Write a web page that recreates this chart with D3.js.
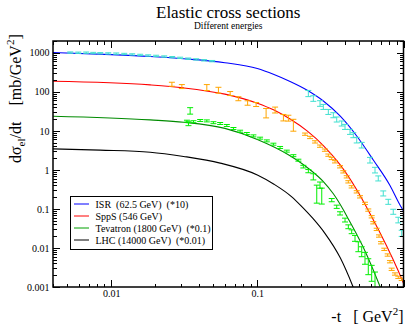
<!DOCTYPE html>
<html><head><meta charset="utf-8">
<script src="https://cdn.jsdelivr.net/npm/d3@7"></script>
<style>
html,body{margin:0;padding:0;background:#fff;}
svg{display:block;font-family:"Liberation Serif","Times New Roman",serif;}
text{white-space:pre;}
</style></head><body>
<svg id="c" width="405" height="324"></svg>
<script>
// ---------------- DATA ----------------
const xMajorTicks = [0.01, 0.1, 1];
const xMajorLabels = ["0.01", "0.1", ""];
const yMajorTicks = [0.001, 0.01, 0.1, 1, 10, 100, 1000];
const yMajorLabels = ["0.001", "0.01", "0.1", "1", "10", "100", "1000"];

const legendLabels = ["ISR  (62.5 GeV)  (*10)", "SppS (546 GeV)", "Tevatron (1800 GeV)  (*0.1)", "LHC (14000 GeV)  (*0.01)"];

// model curves (-t, dσ/dt)
const isrCurveT = [0.004,0.01,0.0185,0.0313,0.06,0.1,0.13,0.1675,0.218,0.2829,0.368,0.4786,0.6215,0.8082,0.946,1.0];
const isrCurveV = [1009,897,802,700,556,395,277,183.5,111,58.1,24.0,7.37,1.79,0.398,0.126,0.0885];
const sppsCurveT = [0.004,0.0185,0.0313,0.06,0.1,0.13,0.1675,0.22,0.2829,0.368,0.4786,0.6058,0.92,1.0];
const sppsCurveV = [186,150,126,87,51,34,20,9.8,4.2,1.36,0.31,0.063,0.0026,0.00125];
const tevCurveT = [0.004,0.0185,0.0313,0.06,0.1,0.1675,0.2295,0.2829,0.3311,0.3874,0.4194,0.443,0.55,0.68,0.71];
const tevCurveV = [23.6,19.06,16.64,11.55,6.03,2.31,1.01,0.501,0.244,0.095,0.055,0.038,0.0078,0.00119,0.00079];
const lhcCurveT = [0.004,0.0084,0.0185,0.0313,0.0557,0.1,0.13,0.172,0.2,0.24,0.29,0.37,0.45,0.47];
const lhcCurveV = [3.45,3.2,2.84,2.21,1.49,0.74,0.43,0.204,0.118,0.057,0.0237,0.0055,0.00105,0.0007];

// data points: -t, value, multiplicative error factor
const isrDataT = [0.00525,0.00596,0.00675,0.00754,0.00842,0.00955,0.01083,0.01229,0.01393,0.0158,0.01792,0.0203,0.02306,0.02615,0.02965,0.03363,0.03815,0.04325,0.04909,
  0.2234,0.2416,0.2685,0.2829,0.306,0.3311,0.3493,0.3778,0.398,0.4307,0.4535,0.4786,0.5176,0.5899,0.6383,0.672,0.727,0.787,0.851,0.921,0.972];
const isrDataV = [1010,1000,1005,985,970,960,950,930,905,880,850,830,800,770,740,705,675,640,610,
  90.2,67.2,50.1,41.0,30.5,25.1,19.5,15.4,12.6,9.4,7.74,5.77,4.29,1.77,0.985,0.604,0.249,0.152,0.0845,0.0518,0.0237];
const isrDataE = [1.04,1.04,1.04,1.04,1.04,1.04,1.04,1.04,1.04,1.04,1.04,1.04,1.04,1.04,1.04,1.04,1.04,1.04,1.04,
  1.2,1.18,1.18,1.16,1.16,1.16,1.16,1.16,1.16,1.16,1.16,1.18,1.18,1.18,1.18,1.16,1.16,1.16,1.16,1.18,1.2];

const sppsDataT = [0.02603,0.03046,0.04513,0.05418,0.0652,0.0742,0.0858,0.0981,0.1148,0.1323,0.1508,0.1631,0.1764,
  0.2121,0.2295,0.2483,0.2685,0.290,0.306,0.3228,0.340,0.368,0.3874,0.4089,0.4194,0.4421,0.4786,0.5041,0.5452,0.5742,0.6058,0.6215,0.6556,0.6799,0.7015,0.739,0.7795,0.8082,0.8301,0.8744,0.921,0.972];
const sppsDataV = [156,136,128.5,109.6,90.2,66.4,51.6,47.2,28.3,34.1,21.7,21.1,13.9,
  8.21,6.76,5.21,4.05,3.20,2.38,1.96,1.61,1.20,0.891,0.664,0.494,0.368,0.274,0.204,0.1385,0.0933,0.0629,0.0442,0.0299,0.0202,0.0136,0.00922,0.00659,0.00444,0.00284,0.00215,0.00177,0.00157];
const sppsDataE = [1.125,1.125,1.19,1.19,1.125,1.125,1.14,1.125,1.32,1.19,1.21,1.19,1.42,
  1.07,1.07,1.07,1.07,1.07,1.07,1.07,1.07,1.07,1.07,1.07,1.07,1.07,1.07,1.07,1.07,1.07,1.07,1.07,1.07,1.07,1.07,1.07,1.07,1.07,1.07,1.07,1.07,1.07];

const tevDataT = [0.0347,0.0338,0.0330,0.03656,0.04063,0.04513,0.05008,0.05565,0.06184,0.06862,0.07623,0.08472,0.0940,0.1044,0.1161,0.1288,0.1431,0.1590,0.1764,0.1909,0.2065,0.2234,0.2416,0.2550,0.2685,0.2759,0.3228,0.3493,0.3680,0.398,0.4194,0.4421,0.4658,0.4908,0.5177,0.5452,0.5742,0.6058,0.6383];
const tevDataV = [32.4,15.2,17.65,17.14,18.4,17.96,16.16,15.41,13.70,11.48,9.79,8.55,7.43,6.49,5.53,4.55,3.75,3.02,2.31,1.77,1.21,0.928,0.664,0.239,0.407,0.213,0.168,0.1134,0.0768,0.0518,0.0349,0.026,0.0176,0.01074,0.0080,0.00543,0.00331,0.00224,0.00151];
const tevDataE = [1.21,1.12,1.06,1.06,1.06,1.06,1.06,1.06,1.06,1.06,1.06,1.06,1.06,1.06,1.06,1.06,1.06,1.06,1.06,1.06,1.08,1.1,1.2,1.7,1.2,1.6,1.1,1.1,1.1,1.12,1.12,1.12,1.19,1.34,1.34,1.42,1.6,1.6,1.6];

// ---------------- CHART ----------------
const svg = d3.select("#c");
const L = 53, R = 403.5, T = 41, B = 287;
const x = d3.scaleLog().domain([0.004, 1]).range([L, R]);
const y = d3.scaleLog().domain([0.001, 2000]).range([B, T]);

svg.append("rect").attr("width",405).attr("height",324).attr("fill","#fff");
svg.append("clipPath").attr("id","clip").append("rect")
  .attr("x",L).attr("y",T).attr("width",R-L).attr("height",B-T);

const plot = svg.append("g").attr("clip-path","url(#clip)");

const line = d3.line().x(d => x(d[0])).y(d => y(d[1])).curve(d3.curveMonotoneX);

function bars(ts, vs, es, color) {
  plot.append("g").attr("stroke", color).attr("stroke-width", 1).attr("fill", "none")
    .selectAll("path").data(d3.range(ts.length)).join("path")
    .attr("d", i => {
      const cx = x(ts[i]), y1 = y(vs[i] * es[i]), y2 = y(vs[i] / es[i]);
      return `M${cx},${y1}V${y2}M${cx-3},${y1}H${cx+3}M${cx-3},${y2}H${cx+3}`;
    });
}
function curve(ts, vs, color) {
  plot.append("path").datum(d3.zip(ts, vs)).attr("d", line)
    .attr("fill","none").attr("stroke", color).attr("stroke-width", 1.1);
}

curve(lhcCurveT, lhcCurveV, "#000000");
curve(tevCurveT, tevCurveV, "#008b00");
curve(sppsCurveT, sppsCurveV, "#ff0000");
curve(isrCurveT, isrCurveV, "#0000ff");
bars(isrDataT, isrDataV, isrDataE, "#40e0d0");
bars(sppsDataT, sppsDataV, sppsDataE, "#ffa500");
bars(tevDataT, tevDataV, tevDataE, "#00ee00");

// axes
const yMinor = y.ticks().filter(v => !yMajorTicks.some(m => Math.abs(m - v) / m < 1e-6));
const xMinor = x.ticks().filter(v => !xMajorTicks.some(m => Math.abs(m - v) / m < 1e-6));

function styleAxis(g) {
  g.select(".domain").remove();
  g.selectAll("line").attr("stroke","#000").attr("stroke-width",1).attr("shape-rendering","crispEdges");
  g.selectAll("text").attr("font-family","Liberation Serif, serif").attr("font-size",10).attr("fill","#000");
}
svg.append("g").attr("transform",`translate(${L},0)`)
  .call(d3.axisLeft(y).tickValues(yMajorTicks).tickSize(-7).tickPadding(3.5)
    .tickFormat((d,i) => yMajorLabels[i])).call(styleAxis);
svg.append("g").attr("transform",`translate(${L},0)`)
  .call(d3.axisLeft(y).tickValues(yMinor).tickSize(-3.5).tickFormat("")).call(styleAxis);
svg.append("g").attr("transform",`translate(${R},0)`)
  .call(d3.axisRight(y).tickValues(yMajorTicks).tickSize(-7).tickFormat("")).call(styleAxis);
svg.append("g").attr("transform",`translate(${R},0)`)
  .call(d3.axisRight(y).tickValues(yMinor).tickSize(-3.5).tickFormat("")).call(styleAxis);
svg.append("g").attr("transform",`translate(0,${B})`)
  .call(d3.axisBottom(x).tickValues(xMajorTicks).tickSize(-7).tickPadding(3)
    .tickFormat((d,i) => xMajorLabels[i])).call(styleAxis);
svg.append("g").attr("transform",`translate(0,${B})`)
  .call(d3.axisBottom(x).tickValues(xMinor).tickSize(-3.5).tickFormat("")).call(styleAxis);
svg.append("g").attr("transform",`translate(0,${T})`)
  .call(d3.axisTop(x).tickValues(xMajorTicks).tickSize(-7).tickFormat("")).call(styleAxis);
svg.append("g").attr("transform",`translate(0,${T})`)
  .call(d3.axisTop(x).tickValues(xMinor).tickSize(-3.5).tickFormat("")).call(styleAxis);

// frame
svg.append("rect").attr("x",L).attr("y",T).attr("width",R-L).attr("height",B-T)
  .attr("fill","none").attr("stroke","#000").attr("stroke-width",1.5);

// titles
svg.append("text").attr("x",(L+R)/2).attr("y",18).attr("text-anchor","middle")
  .attr("font-size",17).text("Elastic cross sections");
svg.append("text").attr("x",(L+R)/2).attr("y",28.5).attr("text-anchor","middle")
  .attr("font-size",9.5).text("Different energies");

// x label
const xl = svg.append("text").attr("x",R).attr("y",322).attr("text-anchor","end").attr("font-size",16);
xl.append("tspan").text("-t   [ GeV");
xl.append("tspan").attr("font-size",11).attr("dy",-7).text("2");
xl.append("tspan").attr("dy",7).text("]");

// y label
const yl = svg.append("text").attr("transform","translate(21,163) rotate(-90)").attr("font-size",16);
yl.append("tspan").text("dσ");
yl.append("tspan").attr("font-size",11).attr("dy",4).text("el");
yl.append("tspan").attr("dy",-4).text("/dt    [mb/GeV");
yl.append("tspan").attr("font-size",11).attr("dy",-7).text("2");
yl.append("tspan").attr("dy",7).text("]");

// legend
const legColors = ["#0000ff","#ff0000","#00a000","#000000"];
const lg = svg.append("g");
lg.append("rect").attr("x",70.5).attr("y",196.5).attr("width",142).attr("height",53)
  .attr("fill","#fff").attr("stroke","#000").attr("stroke-width",1);
legendLabels.forEach((s,i) => {
  const yy = 207.5 + i*12;
  lg.append("line").attr("x1",74).attr("x2",89).attr("y1",yy-3.5).attr("y2",yy-3.5)
    .attr("stroke",legColors[i]).attr("stroke-width",1);
  lg.append("text").attr("x",95.5).attr("y",yy).attr("font-size",10).text(s);
});
</script>
</body></html>
